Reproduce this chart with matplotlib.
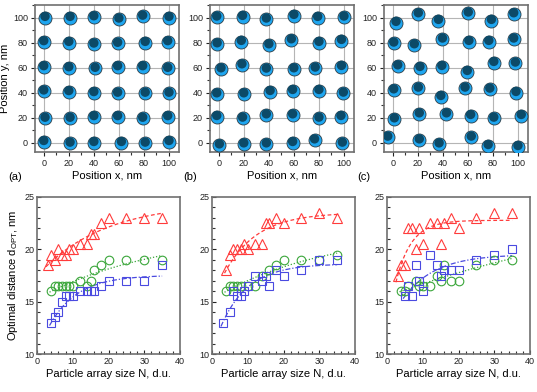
import numpy as np
import matplotlib
matplotlib.use("Agg")
import matplotlib.pyplot as plt
from matplotlib.ticker import MultipleLocator

plt.rcParams['font.family'] = ['Liberation Sans', 'DejaVu Sans']

# particle positions (x, y) in nm, read row by row from top
pos_a_x = [1, 21, 40, 60, 79, 100,
           0, 20, 40, 59, 81, 99,
           0, 20, 41, 59, 79, 99,
           0, 20, 40, 59, 81, 100,
           1, 21, 40, 59, 79, 99,
           0, 21, 40, 62, 81, 100]
pos_a_y = [100, 100, 100.5, 98.7, 101, 100,
           80.6, 80, 78.7, 79.3, 80, 80.6,
           60.6, 59.8, 59.3, 60.6, 60.6, 59.3,
           41.2, 40.7, 39.9, 39.4, 39.4, 39.4,
           19.4, 19.4, 20.7, 20.7, 19.4, 20.7,
           0.8, -0.5, 0, 0, -0.5, 0.8]
pos_b_x = [-1.6, 19, 38, 60, 79, 100,
           -1.3, 18, 40, 58, 80, 98,
           1.8, 18.5, 38, 60, 77, 98,
           -1.6, 20, 41, 59, 80, 99.5,
           -1.6, 19, 38, 59, 80, 97.6,
           0.5, 20, 38, 59, 76.5, 98.7]
pos_b_y = [100.3, 100.8, 98.7, 101.6, 100, 100.3,
           78.9, 80.8, 78.1, 82.1, 80, 81.6,
           58.9, 62.1, 58.7, 58.9, 59.5, 60.8,
           38.9, 38.9, 40.8, 41.6, 41.6, 39.5,
           20.8, 19.5, 22.1, 22.1, 19.5, 20.8,
           -1.9, -1.1, -1.1, 0, 2.1, -0.5]
pos_c_x = [2.6, 20.4, 36.5, 60.3, 78.8, 96.6,
           0.8, 17.2, 39.7, 60.8, 76.7, 96.6,
           4, 21.7, 39.2, 59.5, 80.7, 97.9,
           0.8, 20.4, 38.4, 57.7, 77.5, 98.4,
           1.3, 21.2, 42.9, 62.2, 80.7, 102.6,
           -4, 21.2, 37, 62.7, 76.2, 100]
pos_c_y = [96, 102.9, 97.6, 103.5, 97.6, 102.9,
           79.5, 78.1, 82.7, 80.8, 80.8, 82.7,
           61.3, 60, 60.8, 56.8, 64, 63.5,
           42.1, 43.5, 36.8, 43.5, 42.7, 40,
           18.9, 22.9, 22.9, 21.6, 19.5, 21.6,
           4.3, 2.1, -1.1, 4.3, -2.4, -3.2]

# optimal distance vs array size
tri_a_n = [3, 4, 5, 6, 7, 8, 9, 10, 12, 14, 15, 16, 18, 20, 25, 30, 35]
tri_a_d = [18.5, 19.5, 19, 20, 19.5, 19.5, 20, 20, 20.5, 20.5, 21.5, 21.5, 22.5, 23, 23, 23, 23]
cir_a_n = [4, 5, 6, 7, 8, 9, 10, 12, 14, 15, 16, 18, 20, 25, 30, 35]
cir_a_d = [16, 16.5, 16.5, 16.5, 16.5, 16.5, 16.5, 17, 16.5, 17, 18, 18.5, 19, 19, 19, 19]
sq_a_n = [4, 5, 6, 7, 8, 9, 10, 12, 14, 15, 16, 18, 20, 25, 30, 35]
sq_a_d = [13, 13.5, 14, 15, 15.5, 15.5, 15.5, 16, 16, 16, 16, 16.5, 17, 17, 17, 18.5]

tri_b_n = [4, 5, 6, 7, 8, 9, 10, 12, 14, 15, 16, 18, 20, 25, 30, 35]
tri_b_d = [18, 19.5, 20, 20, 20, 20.5, 20, 20.5, 20.5, 22.5, 22.5, 23, 22.5, 23, 23.5, 23]
cir_b_n = [4, 5, 6, 7, 8, 10, 12, 14, 16, 18, 20, 25, 30, 35]
cir_b_d = [16, 16.5, 16.5, 16.5, 16.5, 16.5, 16.5, 17.5, 18, 18.5, 19, 19, 19, 19.5]
sq_b_n = [3, 5, 6, 7, 8, 9, 10, 12, 14, 15, 16, 18, 20, 25, 30, 35]
sq_b_d = [13, 14, 16, 15.5, 15.5, 16, 16.5, 17.5, 17, 17.5, 16.5, 18, 17.5, 18, 19, 19]

tri_c_n = [3, 4, 5, 6, 7, 8, 9, 10, 12, 14, 15, 16, 18, 20, 25, 30, 35]
tri_c_d = [17.5, 18.5, 18.5, 22, 22, 20, 22, 20.5, 22.5, 22.5, 20.5, 22.5, 23, 22, 23, 23.5, 23.5]
cir_c_n = [4, 5, 6, 8, 9, 10, 12, 14, 15, 16, 18, 20, 25, 30, 35]
cir_c_d = [16, 16, 16.5, 17, 16.5, 16.5, 16.5, 17.5, 17, 18.5, 17, 17, 18.5, 19, 19]
sq_c_n = [5, 6, 7, 8, 9, 10, 12, 14, 15, 16, 18, 20, 25, 30, 35]
sq_c_d = [15.5, 16.5, 15.5, 18.5, 17, 16, 19.5, 18.5, 17.5, 18, 18, 18, 19, 19.5, 20]

W, H = 537, 392
fig = plt.figure(figsize=(W / 100, H / 100), dpi=100)

spine_col = '#707070'
red, green, blue = '#ff3b3b', '#3aa63a', '#4a4ae0'


def fit_sat(x, y):
    # weighted least squares fit of y = a - b*exp(-x/c), first point anchored
    x = np.asarray(x, float)
    y = np.asarray(y, float)
    w = np.ones_like(x)
    w[0] = 6.0
    best = None
    for c in np.linspace(4, 80, 760):
        A = np.column_stack([np.ones_like(x), -np.exp(-x / c)])
        coef = np.linalg.lstsq(A * w[:, None], y * w, rcond=None)[0]
        err = np.sum((w * (A @ coef - y)) ** 2)
        if best is None or err < best[0]:
            best = (err, coef, c)
    _, (a, b), c = best
    xs = np.linspace(x.min() - 0.5, x.max(), 200)
    return xs, a - b * np.exp(-xs / c)


def style(ax):
    for s in ax.spines.values():
        s.set_color(spine_col)
        s.set_linewidth(1.2)
    ax.tick_params(labelsize=6.5, colors='#222222', pad=2)


top_lefts = [35, 210, 384]
top_x = [pos_a_x, pos_b_x, pos_c_x]
top_y = [pos_a_y, pos_b_y, pos_c_y]
letters = ['(a)', '(b)', '(c)']
for i in range(3):
    l = top_lefts[i]
    ax = fig.add_axes([l / W, (H - 152) / H, 144 / W, 147 / H])
    ax.set_xlim(-7, 108)
    ax.set_ylim(-7.5, 110)
    ax.xaxis.set_major_locator(MultipleLocator(20))
    ax.yaxis.set_major_locator(MultipleLocator(20))
    ax.xaxis.set_minor_locator(MultipleLocator(10))
    ax.yaxis.set_minor_locator(MultipleLocator(10))
    ax.tick_params(which='major', direction='out', length=3, width=0.8, color='#333333')
    ax.tick_params(which='minor', direction='out', length=2, width=0.8, color='#333333')
    ax.grid(True, which='major', color='#b5b5b5', lw=0.8, zorder=0)
    ax.set_axisbelow(True)
    px = np.array(top_x[i])
    py = np.array(top_y[i])
    ax.scatter(px, py, s=88, c='#1fa6f0', edgecolors='#2b3a42', linewidths=0.6, zorder=3)
    ax.scatter(px, py + 0.9, s=46, c='#0c4a68', edgecolors='none', zorder=4)
    style(ax)
    ax.set_xlabel('Position x, nm', fontsize=8, labelpad=2)
    if i == 0:
        ax.set_ylabel('Position y, nm', fontsize=8, labelpad=2)
    fig.text((l - 27) / W, (H - 177) / H, letters[i], fontsize=8, va='center', ha='left')

bot_lefts = [37, 212, 387]
series = [
    [(tri_a_n, tri_a_d), (cir_a_n, cir_a_d), (sq_a_n, sq_a_d)],
    [(tri_b_n, tri_b_d), (cir_b_n, cir_b_d), (sq_b_n, sq_b_d)],
    [(tri_c_n, tri_c_d), (cir_c_n, cir_c_d), (sq_c_n, sq_c_d)],
]
marks = ['^', 'o', 's']
sizes = [7.5, 6.2, 6.0]
cols = [red, green, blue]
lstyles = [(0, (3, 2)), (0, (1, 1.5)), (0, (4, 1.5, 1, 1.5))]
for i in range(3):
    l = bot_lefts[i]
    ax = fig.add_axes([l / W, (H - 354) / H, 143 / W, 157 / H])
    ax.set_xlim(0, 40)
    ax.set_ylim(10, 25)
    ax.xaxis.set_major_locator(MultipleLocator(10))
    ax.yaxis.set_major_locator(MultipleLocator(5))
    ax.xaxis.set_minor_locator(MultipleLocator(2))
    ax.yaxis.set_minor_locator(MultipleLocator(1))
    ax.tick_params(which='major', direction='in', length=3, width=0.8, color='#333333')
    ax.tick_params(which='minor', direction='in', length=2, width=0.8, color='#333333')
    for (n, d), m, ms, c, ls in zip(series[i], marks, sizes, cols, lstyles):
        xs, ys = fit_sat(n, d)
        ax.plot(xs, ys, color=c, lw=0.9, ls=ls, zorder=2)
        ax.plot(n, d, ls='none', marker=m, ms=ms, mfc='none', mec=c, mew=0.8, zorder=3)
    style(ax)
    ax.set_xlabel('Particle array size N, d.u.', fontsize=8, labelpad=2)
    if i == 0:
        ax.set_ylabel('Optimal distance d$_{\\mathregular{OPT}}$, nm', fontsize=8, labelpad=3)

fig.savefig('out.png', dpi=100)
